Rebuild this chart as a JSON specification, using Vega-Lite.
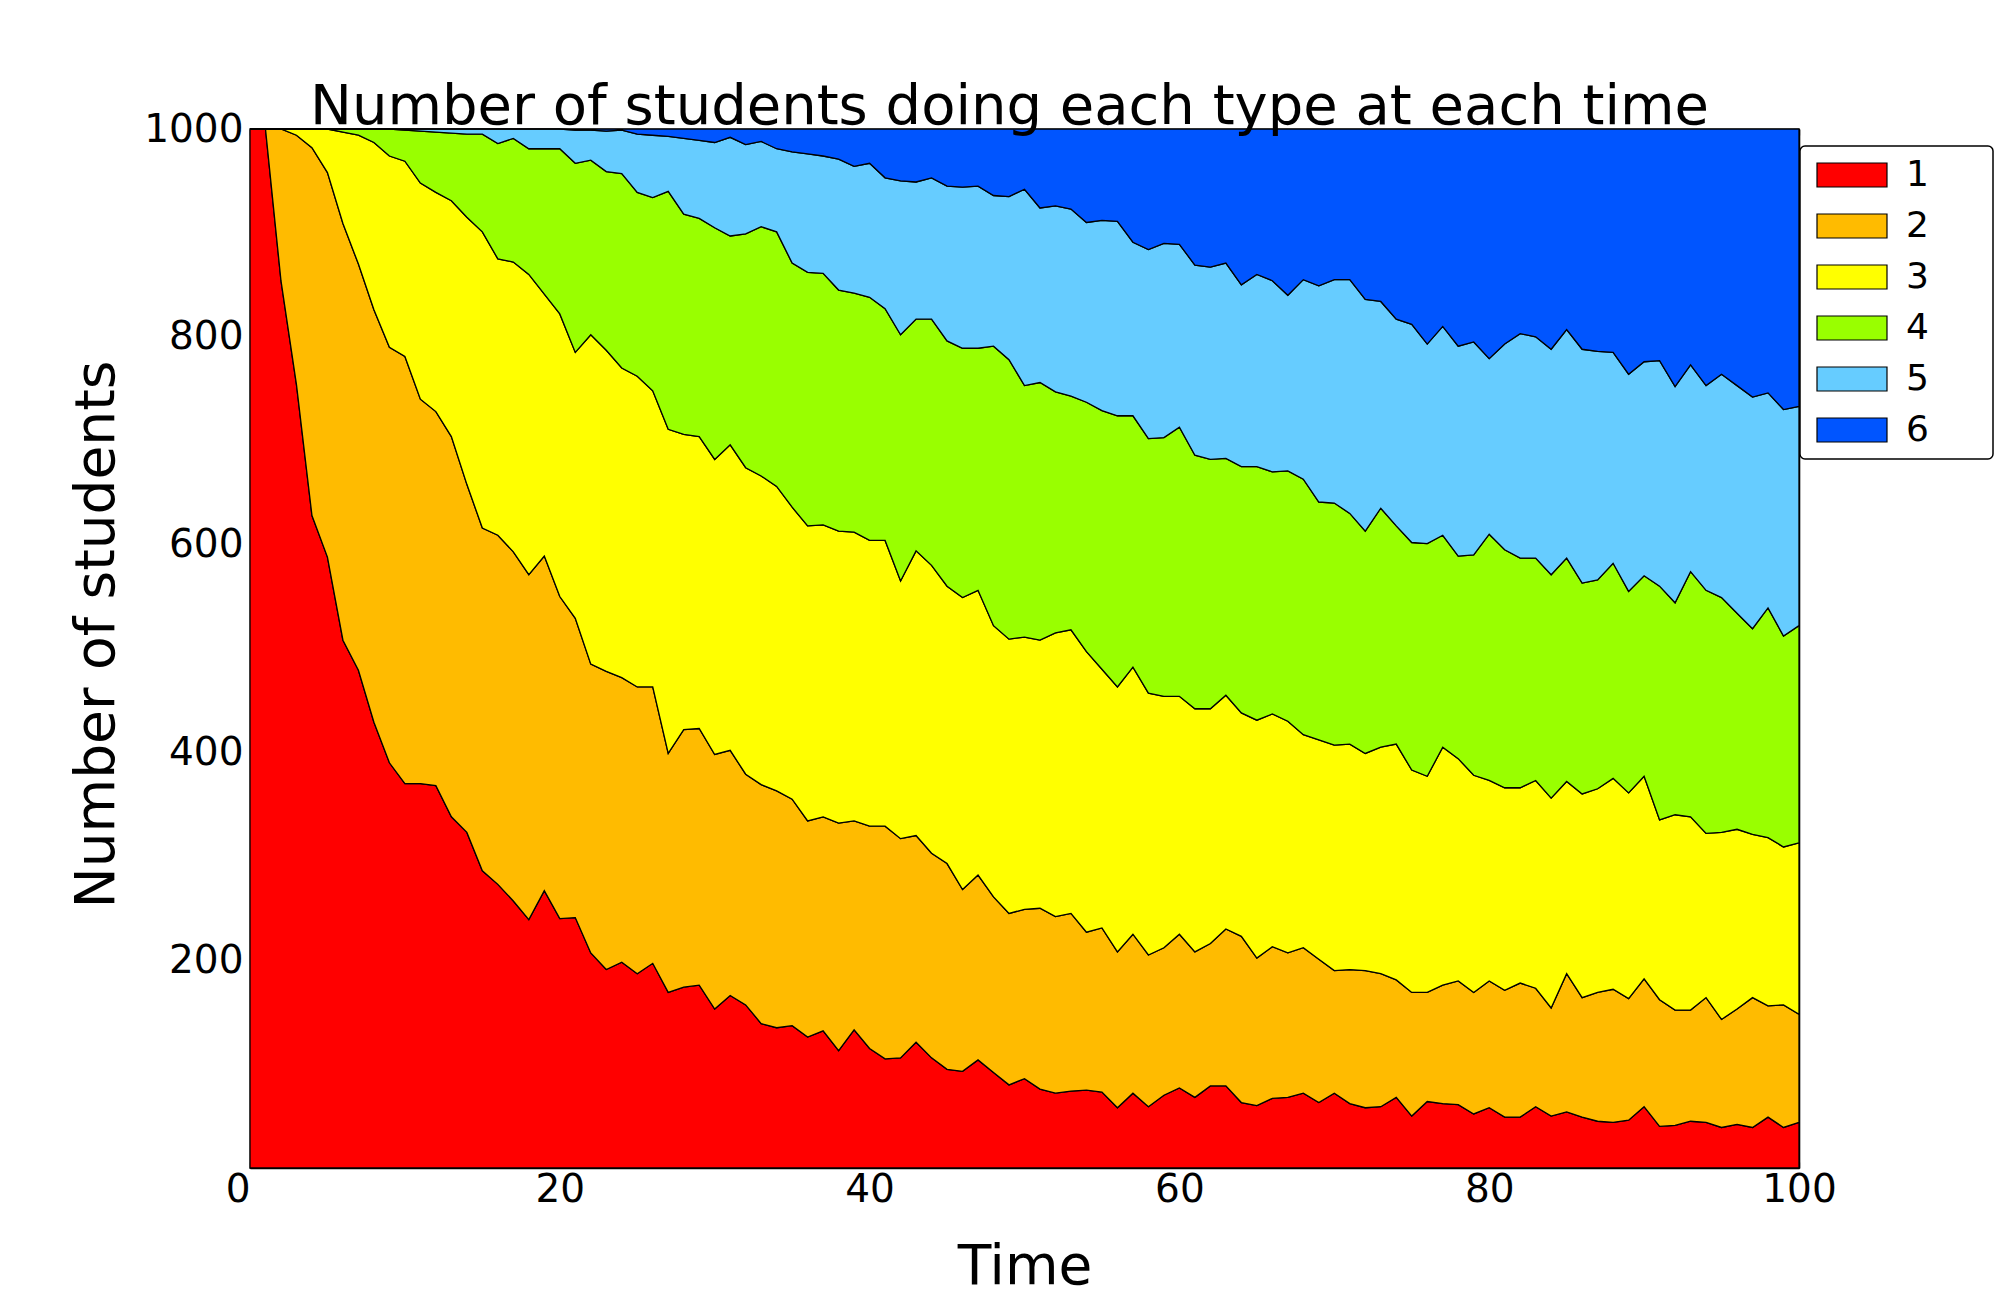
{
  "$schema": "https://vega.github.io/schema/vega-lite/v6.json",
  "width": 1549,
  "height": 1039,
  "autosize": {"type": "none"},
  "padding": {"left": 250, "top": 129, "right": 201, "bottom": 132},
  "background": "white",
  "title": {
    "text": "Number of students doing each type at each time",
    "font": "DejaVu Sans",
    "fontSize": 56,
    "fontWeight": "normal",
    "color": "black",
    "anchor": "middle",
    "frame": "group",
    "baseline": "alphabetic",
    "offset": 4,
    "dx": -15,
    "dy": 74
  },
  "data": {
    "values": [
      {"t":0,"k":"1","n":1000},{"t":0,"k":"2","n":0},{"t":0,"k":"3","n":0},{"t":0,"k":"4","n":0},{"t":0,"k":"5","n":0},{"t":0,"k":"6","n":0},
      {"t":1,"k":"1","n":1000},{"t":1,"k":"2","n":0},{"t":1,"k":"3","n":0},{"t":1,"k":"4","n":0},{"t":1,"k":"5","n":0},{"t":1,"k":"6","n":0},
      {"t":2,"k":"1","n":854},{"t":2,"k":"2","n":146},{"t":2,"k":"3","n":0},{"t":2,"k":"4","n":0},{"t":2,"k":"5","n":0},{"t":2,"k":"6","n":0},
      {"t":3,"k":"1","n":754},{"t":3,"k":"2","n":240},{"t":3,"k":"3","n":6},{"t":3,"k":"4","n":0},{"t":3,"k":"5","n":0},{"t":3,"k":"6","n":0},
      {"t":4,"k":"1","n":628},{"t":4,"k":"2","n":354},{"t":4,"k":"3","n":18},{"t":4,"k":"4","n":0},{"t":4,"k":"5","n":0},{"t":4,"k":"6","n":0},
      {"t":5,"k":"1","n":588},{"t":5,"k":"2","n":370},{"t":5,"k":"3","n":42},{"t":5,"k":"4","n":0},{"t":5,"k":"5","n":0},{"t":5,"k":"6","n":0},
      {"t":6,"k":"1","n":508},{"t":6,"k":"2","n":401},{"t":6,"k":"3","n":88},{"t":6,"k":"4","n":3},{"t":6,"k":"5","n":0},{"t":6,"k":"6","n":0},
      {"t":7,"k":"1","n":479},{"t":7,"k":"2","n":391},{"t":7,"k":"3","n":124},{"t":7,"k":"4","n":6},{"t":7,"k":"5","n":0},{"t":7,"k":"6","n":0},
      {"t":8,"k":"1","n":429},{"t":8,"k":"2","n":397},{"t":8,"k":"3","n":161},{"t":8,"k":"4","n":13},{"t":8,"k":"5","n":0},{"t":8,"k":"6","n":0},
      {"t":9,"k":"1","n":390},{"t":9,"k":"2","n":400},{"t":9,"k":"3","n":184},{"t":9,"k":"4","n":26},{"t":9,"k":"5","n":0},{"t":9,"k":"6","n":0},
      {"t":10,"k":"1","n":370},{"t":10,"k":"2","n":411},{"t":10,"k":"3","n":188},{"t":10,"k":"4","n":30},{"t":10,"k":"5","n":1},{"t":10,"k":"6","n":0},
      {"t":11,"k":"1","n":370},{"t":11,"k":"2","n":370},{"t":11,"k":"3","n":208},{"t":11,"k":"4","n":50},{"t":11,"k":"5","n":2},{"t":11,"k":"6","n":0},
      {"t":12,"k":"1","n":368},{"t":12,"k":"2","n":360},{"t":12,"k":"3","n":211},{"t":12,"k":"4","n":58},{"t":12,"k":"5","n":3},{"t":12,"k":"6","n":0},
      {"t":13,"k":"1","n":338},{"t":13,"k":"2","n":366},{"t":13,"k":"3","n":227},{"t":13,"k":"4","n":65},{"t":13,"k":"5","n":4},{"t":13,"k":"6","n":0},
      {"t":14,"k":"1","n":323},{"t":14,"k":"2","n":335},{"t":14,"k":"3","n":257},{"t":14,"k":"4","n":80},{"t":14,"k":"5","n":5},{"t":14,"k":"6","n":0},
      {"t":15,"k":"1","n":286},{"t":15,"k":"2","n":330},{"t":15,"k":"3","n":285},{"t":15,"k":"4","n":94},{"t":15,"k":"5","n":5},{"t":15,"k":"6","n":0},
      {"t":16,"k":"1","n":273},{"t":16,"k":"2","n":336},{"t":16,"k":"3","n":266},{"t":16,"k":"4","n":111},{"t":16,"k":"5","n":14},{"t":16,"k":"6","n":0},
      {"t":17,"k":"1","n":257},{"t":17,"k":"2","n":336},{"t":17,"k":"3","n":279},{"t":17,"k":"4","n":119},{"t":17,"k":"5","n":9},{"t":17,"k":"6","n":0},
      {"t":18,"k":"1","n":239},{"t":18,"k":"2","n":332},{"t":18,"k":"3","n":289},{"t":18,"k":"4","n":121},{"t":18,"k":"5","n":19},{"t":18,"k":"6","n":0},
      {"t":19,"k":"1","n":267},{"t":19,"k":"2","n":322},{"t":19,"k":"3","n":252},{"t":19,"k":"4","n":140},{"t":19,"k":"5","n":19},{"t":19,"k":"6","n":0},
      {"t":20,"k":"1","n":240},{"t":20,"k":"2","n":310},{"t":20,"k":"3","n":272},{"t":20,"k":"4","n":159},{"t":20,"k":"5","n":19},{"t":20,"k":"6","n":0},
      {"t":21,"k":"1","n":241},{"t":21,"k":"2","n":288},{"t":21,"k":"3","n":256},{"t":21,"k":"4","n":182},{"t":21,"k":"5","n":32},{"t":21,"k":"6","n":1},
      {"t":22,"k":"1","n":207},{"t":22,"k":"2","n":278},{"t":22,"k":"3","n":317},{"t":22,"k":"4","n":168},{"t":22,"k":"5","n":29},{"t":22,"k":"6","n":1},
      {"t":23,"k":"1","n":191},{"t":23,"k":"2","n":287},{"t":23,"k":"3","n":309},{"t":23,"k":"4","n":172},{"t":23,"k":"5","n":39},{"t":23,"k":"6","n":2},
      {"t":24,"k":"1","n":198},{"t":24,"k":"2","n":274},{"t":24,"k":"3","n":298},{"t":24,"k":"4","n":187},{"t":24,"k":"5","n":42},{"t":24,"k":"6","n":1},
      {"t":25,"k":"1","n":187},{"t":25,"k":"2","n":276},{"t":25,"k":"3","n":299},{"t":25,"k":"4","n":177},{"t":25,"k":"5","n":56},{"t":25,"k":"6","n":5},
      {"t":26,"k":"1","n":197},{"t":26,"k":"2","n":266},{"t":26,"k":"3","n":285},{"t":26,"k":"4","n":186},{"t":26,"k":"5","n":60},{"t":26,"k":"6","n":6},
      {"t":27,"k":"1","n":169},{"t":27,"k":"2","n":230},{"t":27,"k":"3","n":312},{"t":27,"k":"4","n":229},{"t":27,"k":"5","n":53},{"t":27,"k":"6","n":7},
      {"t":28,"k":"1","n":174},{"t":28,"k":"2","n":248},{"t":28,"k":"3","n":284},{"t":28,"k":"4","n":212},{"t":28,"k":"5","n":73},{"t":28,"k":"6","n":9},
      {"t":29,"k":"1","n":176},{"t":29,"k":"2","n":247},{"t":29,"k":"3","n":281},{"t":29,"k":"4","n":210},{"t":29,"k":"5","n":75},{"t":29,"k":"6","n":11},
      {"t":30,"k":"1","n":153},{"t":30,"k":"2","n":245},{"t":30,"k":"3","n":284},{"t":30,"k":"4","n":223},{"t":30,"k":"5","n":82},{"t":30,"k":"6","n":13},
      {"t":31,"k":"1","n":166},{"t":31,"k":"2","n":236},{"t":31,"k":"3","n":294},{"t":31,"k":"4","n":201},{"t":31,"k":"5","n":95},{"t":31,"k":"6","n":8},
      {"t":32,"k":"1","n":157},{"t":32,"k":"2","n":222},{"t":32,"k":"3","n":295},{"t":32,"k":"4","n":225},{"t":32,"k":"5","n":86},{"t":32,"k":"6","n":15},
      {"t":33,"k":"1","n":139},{"t":33,"k":"2","n":230},{"t":33,"k":"3","n":297},{"t":33,"k":"4","n":240},{"t":33,"k":"5","n":82},{"t":33,"k":"6","n":12},
      {"t":34,"k":"1","n":135},{"t":34,"k":"2","n":228},{"t":34,"k":"3","n":293},{"t":34,"k":"4","n":245},{"t":34,"k":"5","n":80},{"t":34,"k":"6","n":19},
      {"t":35,"k":"1","n":137},{"t":35,"k":"2","n":218},{"t":35,"k":"3","n":281},{"t":35,"k":"4","n":235},{"t":35,"k":"5","n":107},{"t":35,"k":"6","n":22},
      {"t":36,"k":"1","n":126},{"t":36,"k":"2","n":208},{"t":36,"k":"3","n":284},{"t":36,"k":"4","n":244},{"t":36,"k":"5","n":114},{"t":36,"k":"6","n":24},
      {"t":37,"k":"1","n":132},{"t":37,"k":"2","n":206},{"t":37,"k":"3","n":281},{"t":37,"k":"4","n":242},{"t":37,"k":"5","n":113},{"t":37,"k":"6","n":26},
      {"t":38,"k":"1","n":113},{"t":38,"k":"2","n":219},{"t":38,"k":"3","n":281},{"t":38,"k":"4","n":232},{"t":38,"k":"5","n":126},{"t":38,"k":"6","n":29},
      {"t":39,"k":"1","n":133},{"t":39,"k":"2","n":201},{"t":39,"k":"3","n":278},{"t":39,"k":"4","n":230},{"t":39,"k":"5","n":122},{"t":39,"k":"6","n":36},
      {"t":40,"k":"1","n":115},{"t":40,"k":"2","n":214},{"t":40,"k":"3","n":275},{"t":40,"k":"4","n":234},{"t":40,"k":"5","n":129},{"t":40,"k":"6","n":33},
      {"t":41,"k":"1","n":105},{"t":41,"k":"2","n":224},{"t":41,"k":"3","n":275},{"t":41,"k":"4","n":223},{"t":41,"k":"5","n":126},{"t":41,"k":"6","n":47},
      {"t":42,"k":"1","n":106},{"t":42,"k":"2","n":211},{"t":42,"k":"3","n":248},{"t":42,"k":"4","n":237},{"t":42,"k":"5","n":148},{"t":42,"k":"6","n":50},
      {"t":43,"k":"1","n":121},{"t":43,"k":"2","n":199},{"t":43,"k":"3","n":274},{"t":43,"k":"4","n":223},{"t":43,"k":"5","n":132},{"t":43,"k":"6","n":51},
      {"t":44,"k":"1","n":106},{"t":44,"k":"2","n":197},{"t":44,"k":"3","n":277},{"t":44,"k":"4","n":237},{"t":44,"k":"5","n":136},{"t":44,"k":"6","n":47},
      {"t":45,"k":"1","n":95},{"t":45,"k":"2","n":198},{"t":45,"k":"3","n":267},{"t":45,"k":"4","n":236},{"t":45,"k":"5","n":149},{"t":45,"k":"6","n":55},
      {"t":46,"k":"1","n":93},{"t":46,"k":"2","n":175},{"t":46,"k":"3","n":281},{"t":46,"k":"4","n":240},{"t":46,"k":"5","n":155},{"t":46,"k":"6","n":56},
      {"t":47,"k":"1","n":104},{"t":47,"k":"2","n":178},{"t":47,"k":"3","n":274},{"t":47,"k":"4","n":233},{"t":47,"k":"5","n":156},{"t":47,"k":"6","n":55},
      {"t":48,"k":"1","n":92},{"t":48,"k":"2","n":169},{"t":48,"k":"3","n":261},{"t":48,"k":"4","n":269},{"t":48,"k":"5","n":145},{"t":48,"k":"6","n":64},
      {"t":49,"k":"1","n":80},{"t":49,"k":"2","n":165},{"t":49,"k":"3","n":264},{"t":49,"k":"4","n":269},{"t":49,"k":"5","n":157},{"t":49,"k":"6","n":65},
      {"t":50,"k":"1","n":86},{"t":50,"k":"2","n":163},{"t":50,"k":"3","n":262},{"t":50,"k":"4","n":242},{"t":50,"k":"5","n":189},{"t":50,"k":"6","n":58},
      {"t":51,"k":"1","n":76},{"t":51,"k":"2","n":174},{"t":51,"k":"3","n":258},{"t":51,"k":"4","n":248},{"t":51,"k":"5","n":168},{"t":51,"k":"6","n":76},
      {"t":52,"k":"1","n":72},{"t":52,"k":"2","n":170},{"t":52,"k":"3","n":273},{"t":52,"k":"4","n":232},{"t":52,"k":"5","n":179},{"t":52,"k":"6","n":74},
      {"t":53,"k":"1","n":74},{"t":53,"k":"2","n":171},{"t":53,"k":"3","n":273},{"t":53,"k":"4","n":225},{"t":53,"k":"5","n":180},{"t":53,"k":"6","n":77},
      {"t":54,"k":"1","n":75},{"t":54,"k":"2","n":152},{"t":54,"k":"3","n":270},{"t":54,"k":"4","n":240},{"t":54,"k":"5","n":173},{"t":54,"k":"6","n":90},
      {"t":55,"k":"1","n":73},{"t":55,"k":"2","n":158},{"t":55,"k":"3","n":249},{"t":55,"k":"4","n":249},{"t":55,"k":"5","n":183},{"t":55,"k":"6","n":88},
      {"t":56,"k":"1","n":58},{"t":56,"k":"2","n":150},{"t":56,"k":"3","n":255},{"t":56,"k":"4","n":261},{"t":56,"k":"5","n":187},{"t":56,"k":"6","n":89},
      {"t":57,"k":"1","n":72},{"t":57,"k":"2","n":153},{"t":57,"k":"3","n":257},{"t":57,"k":"4","n":242},{"t":57,"k":"5","n":167},{"t":57,"k":"6","n":109},
      {"t":58,"k":"1","n":59},{"t":58,"k":"2","n":146},{"t":58,"k":"3","n":252},{"t":58,"k":"4","n":245},{"t":58,"k":"5","n":182},{"t":58,"k":"6","n":116},
      {"t":59,"k":"1","n":70},{"t":59,"k":"2","n":142},{"t":59,"k":"3","n":242},{"t":59,"k":"4","n":249},{"t":59,"k":"5","n":187},{"t":59,"k":"6","n":110},
      {"t":60,"k":"1","n":77},{"t":60,"k":"2","n":148},{"t":60,"k":"3","n":229},{"t":60,"k":"4","n":259},{"t":60,"k":"5","n":176},{"t":60,"k":"6","n":111},
      {"t":61,"k":"1","n":68},{"t":61,"k":"2","n":140},{"t":61,"k":"3","n":234},{"t":61,"k":"4","n":244},{"t":61,"k":"5","n":183},{"t":61,"k":"6","n":131},
      {"t":62,"k":"1","n":79},{"t":62,"k":"2","n":137},{"t":62,"k":"3","n":226},{"t":62,"k":"4","n":240},{"t":62,"k":"5","n":185},{"t":62,"k":"6","n":133},
      {"t":63,"k":"1","n":79},{"t":63,"k":"2","n":151},{"t":63,"k":"3","n":225},{"t":63,"k":"4","n":228},{"t":63,"k":"5","n":188},{"t":63,"k":"6","n":129},
      {"t":64,"k":"1","n":63},{"t":64,"k":"2","n":160},{"t":64,"k":"3","n":215},{"t":64,"k":"4","n":237},{"t":64,"k":"5","n":175},{"t":64,"k":"6","n":150},
      {"t":65,"k":"1","n":60},{"t":65,"k":"2","n":142},{"t":65,"k":"3","n":229},{"t":65,"k":"4","n":244},{"t":65,"k":"5","n":185},{"t":65,"k":"6","n":140},
      {"t":66,"k":"1","n":67},{"t":66,"k":"2","n":146},{"t":66,"k":"3","n":224},{"t":66,"k":"4","n":233},{"t":66,"k":"5","n":184},{"t":66,"k":"6","n":146},
      {"t":67,"k":"1","n":68},{"t":67,"k":"2","n":139},{"t":67,"k":"3","n":223},{"t":67,"k":"4","n":241},{"t":67,"k":"5","n":169},{"t":67,"k":"6","n":160},
      {"t":68,"k":"1","n":72},{"t":68,"k":"2","n":140},{"t":68,"k":"3","n":205},{"t":68,"k":"4","n":246},{"t":68,"k":"5","n":192},{"t":68,"k":"6","n":145},
      {"t":69,"k":"1","n":63},{"t":69,"k":"2","n":138},{"t":69,"k":"3","n":211},{"t":69,"k":"4","n":229},{"t":69,"k":"5","n":208},{"t":69,"k":"6","n":151},
      {"t":70,"k":"1","n":72},{"t":70,"k":"2","n":118},{"t":70,"k":"3","n":217},{"t":70,"k":"4","n":233},{"t":70,"k":"5","n":215},{"t":70,"k":"6","n":145},
      {"t":71,"k":"1","n":62},{"t":71,"k":"2","n":129},{"t":71,"k":"3","n":217},{"t":71,"k":"4","n":222},{"t":71,"k":"5","n":225},{"t":71,"k":"6","n":145},
      {"t":72,"k":"1","n":58},{"t":72,"k":"2","n":132},{"t":72,"k":"3","n":209},{"t":72,"k":"4","n":214},{"t":72,"k":"5","n":223},{"t":72,"k":"6","n":164},
      {"t":73,"k":"1","n":59},{"t":73,"k":"2","n":128},{"t":73,"k":"3","n":218},{"t":73,"k":"4","n":230},{"t":73,"k":"5","n":199},{"t":73,"k":"6","n":166},
      {"t":74,"k":"1","n":68},{"t":74,"k":"2","n":113},{"t":74,"k":"3","n":227},{"t":74,"k":"4","n":210},{"t":74,"k":"5","n":199},{"t":74,"k":"6","n":183},
      {"t":75,"k":"1","n":50},{"t":75,"k":"2","n":119},{"t":75,"k":"3","n":214},{"t":75,"k":"4","n":219},{"t":75,"k":"5","n":210},{"t":75,"k":"6","n":188},
      {"t":76,"k":"1","n":64},{"t":76,"k":"2","n":105},{"t":76,"k":"3","n":208},{"t":76,"k":"4","n":224},{"t":76,"k":"5","n":192},{"t":76,"k":"6","n":207},
      {"t":77,"k":"1","n":62},{"t":77,"k":"2","n":114},{"t":77,"k":"3","n":229},{"t":77,"k":"4","n":204},{"t":77,"k":"5","n":201},{"t":77,"k":"6","n":190},
      {"t":78,"k":"1","n":61},{"t":78,"k":"2","n":119},{"t":78,"k":"3","n":214},{"t":78,"k":"4","n":195},{"t":78,"k":"5","n":202},{"t":78,"k":"6","n":209},
      {"t":79,"k":"1","n":52},{"t":79,"k":"2","n":117},{"t":79,"k":"3","n":209},{"t":79,"k":"4","n":212},{"t":79,"k":"5","n":205},{"t":79,"k":"6","n":205},
      {"t":80,"k":"1","n":58},{"t":80,"k":"2","n":122},{"t":80,"k":"3","n":193},{"t":80,"k":"4","n":237},{"t":80,"k":"5","n":169},{"t":80,"k":"6","n":221},
      {"t":81,"k":"1","n":49},{"t":81,"k":"2","n":122},{"t":81,"k":"3","n":195},{"t":81,"k":"4","n":229},{"t":81,"k":"5","n":198},{"t":81,"k":"6","n":207},
      {"t":82,"k":"1","n":49},{"t":82,"k":"2","n":129},{"t":82,"k":"3","n":188},{"t":82,"k":"4","n":221},{"t":82,"k":"5","n":216},{"t":82,"k":"6","n":197},
      {"t":83,"k":"1","n":59},{"t":83,"k":"2","n":114},{"t":83,"k":"3","n":200},{"t":83,"k":"4","n":214},{"t":83,"k":"5","n":213},{"t":83,"k":"6","n":200},
      {"t":84,"k":"1","n":50},{"t":84,"k":"2","n":104},{"t":84,"k":"3","n":202},{"t":84,"k":"4","n":215},{"t":84,"k":"5","n":217},{"t":84,"k":"6","n":212},
      {"t":85,"k":"1","n":54},{"t":85,"k":"2","n":133},{"t":85,"k":"3","n":185},{"t":85,"k":"4","n":215},{"t":85,"k":"5","n":220},{"t":85,"k":"6","n":193},
      {"t":86,"k":"1","n":49},{"t":86,"k":"2","n":115},{"t":86,"k":"3","n":196},{"t":86,"k":"4","n":203},{"t":86,"k":"5","n":225},{"t":86,"k":"6","n":212},
      {"t":87,"k":"1","n":45},{"t":87,"k":"2","n":124},{"t":87,"k":"3","n":196},{"t":87,"k":"4","n":201},{"t":87,"k":"5","n":220},{"t":87,"k":"6","n":214},
      {"t":88,"k":"1","n":44},{"t":88,"k":"2","n":128},{"t":88,"k":"3","n":203},{"t":88,"k":"4","n":207},{"t":88,"k":"5","n":203},{"t":88,"k":"6","n":215},
      {"t":89,"k":"1","n":46},{"t":89,"k":"2","n":117},{"t":89,"k":"3","n":198},{"t":89,"k":"4","n":194},{"t":89,"k":"5","n":209},{"t":89,"k":"6","n":236},
      {"t":90,"k":"1","n":59},{"t":90,"k":"2","n":123},{"t":90,"k":"3","n":195},{"t":90,"k":"4","n":193},{"t":90,"k":"5","n":206},{"t":90,"k":"6","n":224},
      {"t":91,"k":"1","n":40},{"t":91,"k":"2","n":122},{"t":91,"k":"3","n":173},{"t":91,"k":"4","n":225},{"t":91,"k":"5","n":217},{"t":91,"k":"6","n":223},
      {"t":92,"k":"1","n":41},{"t":92,"k":"2","n":111},{"t":92,"k":"3","n":188},{"t":92,"k":"4","n":204},{"t":92,"k":"5","n":208},{"t":92,"k":"6","n":248},
      {"t":93,"k":"1","n":45},{"t":93,"k":"2","n":107},{"t":93,"k":"3","n":186},{"t":93,"k":"4","n":236},{"t":93,"k":"5","n":199},{"t":93,"k":"6","n":227},
      {"t":94,"k":"1","n":44},{"t":94,"k":"2","n":120},{"t":94,"k":"3","n":158},{"t":94,"k":"4","n":234},{"t":94,"k":"5","n":197},{"t":94,"k":"6","n":247},
      {"t":95,"k":"1","n":39},{"t":95,"k":"2","n":104},{"t":95,"k":"3","n":180},{"t":95,"k":"4","n":226},{"t":95,"k":"5","n":215},{"t":95,"k":"6","n":236},
      {"t":96,"k":"1","n":42},{"t":96,"k":"2","n":111},{"t":96,"k":"3","n":173},{"t":96,"k":"4","n":208},{"t":96,"k":"5","n":219},{"t":96,"k":"6","n":247},
      {"t":97,"k":"1","n":39},{"t":97,"k":"2","n":125},{"t":97,"k":"3","n":157},{"t":97,"k":"4","n":198},{"t":97,"k":"5","n":223},{"t":97,"k":"6","n":258},
      {"t":98,"k":"1","n":49},{"t":98,"k":"2","n":107},{"t":98,"k":"3","n":162},{"t":98,"k":"4","n":221},{"t":98,"k":"5","n":207},{"t":98,"k":"6","n":254},
      {"t":99,"k":"1","n":39},{"t":99,"k":"2","n":118},{"t":99,"k":"3","n":152},{"t":99,"k":"4","n":203},{"t":99,"k":"5","n":218},{"t":99,"k":"6","n":270},
      {"t":100,"k":"1","n":44},{"t":100,"k":"2","n":104},{"t":100,"k":"3","n":165},{"t":100,"k":"4","n":209},{"t":100,"k":"5","n":211},{"t":100,"k":"6","n":267}
    ]
  },
  "layer": [
    {
      "mark": {"type": "area", "stroke": "black", "strokeWidth": 1.3, "strokeJoin": "miter", "opacity": 1},
      "encoding": {
        "x": {
          "field": "t",
          "type": "quantitative",
          "scale": {"domain": [0, 100], "nice": false, "zero": false},
          "axis": {
            "orient": "bottom",
            "title": "Time",
            "values": [0, 20, 40, 60, 80, 100],
            "labelFlush": false,
            "labelAlign": {"condition": {"test": "datum.value == 0", "value": "right"}, "value": "center"},
            "labelBaseline": "alphabetic",
            "labelPadding": 39,
            "titleBaseline": "alphabetic",
            "titleY": 115
          }
        },
        "y": {
          "field": "n",
          "type": "quantitative",
          "stack": "zero",
          "scale": {"domain": [0, 1000], "nice": false},
          "axis": {
            "orient": "left",
            "title": "Number of students",
            "values": [200, 400, 600, 800, 1000],
            "format": "d",
            "labelPadding": 13,
            "titleBaseline": "alphabetic",
            "titleAngle": -90,
            "titleX": -137,
            "titleY": 505
          }
        },
        "color": {
          "field": "k",
          "type": "nominal",
          "scale": {
            "domain": ["1", "2", "3", "4", "5", "6"],
            "range": ["#ff0000", "#ffbb00", "#ffff00", "#99ff00", "#66ccff", "#0055ff"]
          },
          "legend": {
            "orient": "none",
            "legendX": 1550,
            "legendY": 17,
            "title": null,
            "symbolType": "M-1,-1H4.833V1H-1Z",
            "symbolSize": 576,
            "symbolStrokeColor": "black",
            "symbolStrokeWidth": 1.2,
            "symbolOpacity": 1,
            "labelFont": "DejaVu Sans",
            "labelFontSize": 36,
            "labelColor": "black",
            "labelOffset": 59,
            "labelExpr": "datum.label + '\u2800\u2800'",
            "padding": 11,
            "rowPadding": 15,
            "strokeColor": "black",
            "cornerRadius": 5,
            "fillColor": "white",
            "encode": {"legend": {"update": {"strokeWidth": {"value": 1.5}}}}
          }
        },
        "order": {"field": "k", "sort": "ascending"}
      }
    },
    {
      "mark": {"type": "point", "opacity": 0},
      "encoding": {
        "x": {
          "field": "t",
          "type": "quantitative",
          "scale": {"domain": [0, 100], "nice": false, "zero": false},
          "axis": {"orient": "top", "title": null, "labels": false, "values": [0, 20, 40, 60, 80, 100]}
        },
        "y": {
          "field": "n",
          "type": "quantitative",
          "scale": {"domain": [0, 1000], "nice": false},
          "axis": {"orient": "right", "title": null, "labels": false, "values": [200, 400, 600, 800, 1000]}
        }
      }
    }
  ],
  "resolve": {"axis": {"x": "independent", "y": "independent"}},
  "config": {
    "view": {"stroke": null},
    "axis": {
      "grid": false,
      "zindex": 1,
      "domainColor": "black",
      "domainWidth": 1.6,
      "tickColor": "black",
      "tickWidth": 1.2,
      "tickSize": -6,
      "labelFont": "DejaVu Sans",
      "labelFontSize": 39,
      "labelColor": "black",
      "titleFont": "DejaVu Sans",
      "titleFontSize": 55,
      "titleFontWeight": "normal",
      "titleColor": "black"
    }
  }
}
